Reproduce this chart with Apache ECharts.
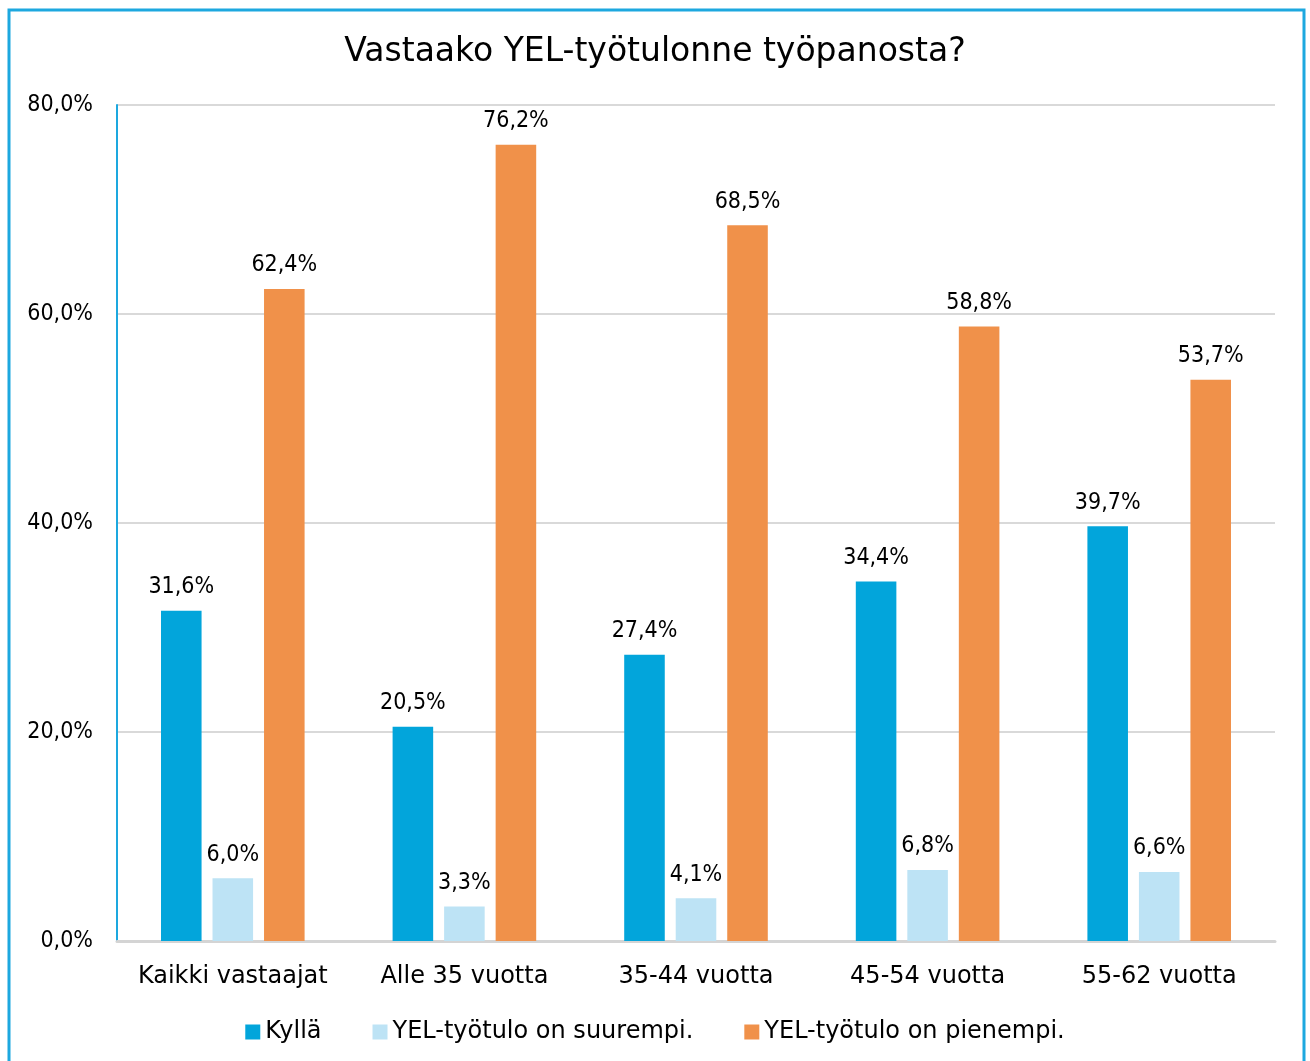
<!DOCTYPE html>
<html>
<head>
<meta charset="utf-8">
<script src="https://cdn.jsdelivr.net/npm/echarts@6/dist/echarts.min.js"></script>
<style>
    html, body { margin: 0; padding: 0; background: #fff; }
    #main { width: 1310px; height: 1061px; }
</style>
</head>
<body>
<div id="main"></div>
<script>
const FONT = 'DejaVu Sans';
const NUM_FONT = 'DejaVu Sans Condensed';

// ------------------ data ------------------
const categories = ['Kaikki vastaajat', 'Alle 35 vuotta', '35-44 vuotta', '45-54 vuotta', '55-62 vuotta'];
const seriesNames = ['Kyllä', 'YEL-työtulo on suurempi.', 'YEL-työtulo on pienempi.'];
const kylla = [31.6, 20.5, 27.4, 34.4, 39.7];
const suurempi = [6.0, 3.3, 4.1, 6.8, 6.6];
const pienempi = [62.4, 76.2, 68.5, 58.8, 53.7];
const colors = ['#02a5db', '#bde3f5', '#f0914a'];

function fmt(v) {
    return v.toFixed(1).replace('.', ',') + '%';
}

let myChart = echarts.init(document.getElementById('main'));

function barSeries(name, data, color) {
    return {
        name: name,
        type: 'bar',
        data: data,
        barGap: '27%',
        barCategoryGap: '38%',
        itemStyle: {color: color},
        label: {
            show: true,
            position: 'top',
            distance: 12,
            color: '#000',
            fontFamily: NUM_FONT,
            fontSize: 23,
            formatter: function (p) { return fmt(p.value); }
        }
    };
}

let option = {
    animation: false,
    textStyle: {fontFamily: FONT},
    title: {
        text: 'Vastaako YEL-työtulonne työpanosta?',
        left: 'center',
        top: 31,
        textStyle: {fontFamily: FONT, fontSize: 33, fontWeight: 'normal', color: '#000'}
    },
    legend: {
        bottom: 12,
        left: 'center',
        itemWidth: 15,
        itemHeight: 15,
        itemGap: 51,
        icon: 'rect',
        textStyle: {fontFamily: FONT, fontSize: 24, color: '#000'},
        data: seriesNames
    },
    grid: {left: 117, right: 35, top: 105, bottom: 120, containLabel: false},
    xAxis: {
        type: 'category',
        data: categories,
        axisTick: {show: false},
        axisLine: {lineStyle: {color: '#d4d4d4', width: 3}},
        axisLabel: {color: '#000', fontFamily: FONT, fontSize: 24, margin: 24, interval: 0}
    },
    yAxis: {
        type: 'value',
        min: 0,
        max: 80,
        interval: 20,
        axisLine: {show: true, lineStyle: {color: '#1da8df', width: 2}},
        axisTick: {show: false},
        splitLine: {lineStyle: {color: '#d9d9d9', width: 2}},
        axisLabel: {
            color: '#000', fontFamily: NUM_FONT, fontSize: 23, margin: 24,
            formatter: function (v) { return fmt(v); }
        }
    },
    graphic: [{
        type: 'rect',
        silent: true,
        shape: {x: 9, y: 10, width: 1295, height: 1100},
        style: {fill: 'none', stroke: '#1da8df', lineWidth: 3}
    }],
    series: [
        barSeries(seriesNames[0], kylla, colors[0]),
        barSeries(seriesNames[1], suurempi, colors[1]),
        barSeries(seriesNames[2], pienempi, colors[2])
    ]
};

myChart.setOption(option, true);
</script>
</body>
</html>
